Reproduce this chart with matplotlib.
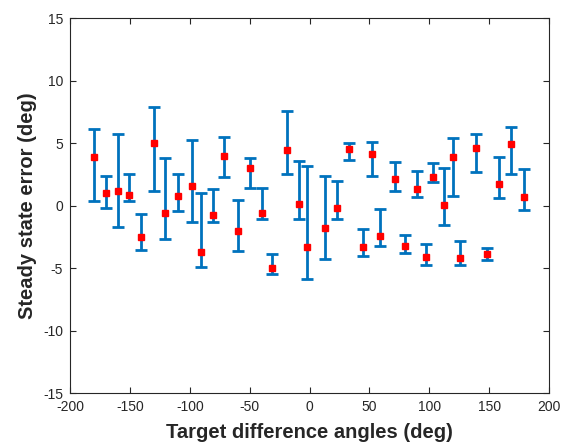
import matplotlib
matplotlib.use("Agg")
import matplotlib.pyplot as plt
import numpy as np

plt.rcParams['font.family'] = ['Liberation Sans', 'DejaVu Sans']
plt.rcParams['axes.unicode_minus'] = False

# target difference angles (deg)
angles = [-180, -170, -160, -151, -141, -130, -121, -110, -98, -91,
          -81, -71, -60, -50, -40, -31, -19, -9, -2, 13,
          23, 33, 45, 52, 59, 71, 80, 90, 97, 103,
          112, 120, 126, 139, 148, 158, 168, 179]

# mean steady state error (deg)
mean_err = [3.92, 0.99, 1.20, 0.83, -2.48, 4.99, -0.58, 0.78, 1.55, -3.70,
            -0.74, 4.00, -2.05, 3.04, -0.58, -4.96, 4.48, 0.11, -3.30, -1.78,
            -0.18, 4.56, -3.28, 4.14, -2.45, 2.14, -3.22, 1.36, -4.13, 2.27,
            0.03, 3.87, -4.18, 4.59, -3.89, 1.71, 4.94, 0.72]

# upper and lower ends of the error bars (deg)
upper = [6.16, 2.40, 5.71, 2.54, -0.66, 7.92, 3.82, 2.54, 5.28, 1.02,
         1.34, 5.47, 0.48, 3.82, 1.42, -3.86, 7.55, 3.60, 3.15, 2.35,
         2.00, 5.04, -1.86, 5.10, -0.29, 3.50, -2.32, 2.80, -3.06, 3.42,
         3.04, 5.42, -2.80, 5.74, -3.38, 3.90, 6.27, 2.96]
lower = [0.35, -0.21, -1.70, 0.38, -3.52, 1.18, -2.69, -0.40, -1.33, -4.90,
         -1.28, 2.30, -3.60, 1.44, -1.06, -5.44, 2.56, -1.06, -5.89, -4.24,
         -1.06, 3.66, -4.05, 2.38, -3.20, 1.20, -3.81, 0.72, -4.72, 1.92,
         -1.54, 0.75, -4.77, 2.72, -4.37, 0.62, 2.54, -0.34]

m = np.array(mean_err)
yerr = [m - np.array(lower), np.array(upper) - m]

fig = plt.figure(figsize=(5.70, 4.46), dpi=100)
ax = fig.add_axes([0.1228, 0.1182, 0.8404, 0.8408])

ax.errorbar(angles, mean_err, yerr=yerr, fmt='none', ecolor='#0072BD',
            elinewidth=2.0, capsize=4.5, capthick=2.0, zorder=2)
ax.plot(angles, mean_err, 's', color='red', markersize=5, zorder=3)

ax.set_xlim(-200, 200)
ax.set_ylim(-15, 15)
ax.set_xticks(np.arange(-200, 201, 50))
ax.set_yticks(np.arange(-15, 16, 5))

ax.tick_params(direction='in', top=True, right=True, length=4, width=0.8,
               labelsize=10, colors='#262626')
ax.tick_params(axis='x', pad=5)
ax.tick_params(axis='y', pad=5)
for s in ax.spines.values():
    s.set_color('#262626')
    s.set_linewidth(0.8)

ax.set_xlabel('Target difference angles (deg)', fontsize=14.5, fontweight='bold',
              color='#262626', labelpad=6)
ax.set_ylabel('Steady state error (deg)', fontsize=14.5, fontweight='bold',
              color='#262626', labelpad=4)

fig.savefig('out.png', dpi=100)
